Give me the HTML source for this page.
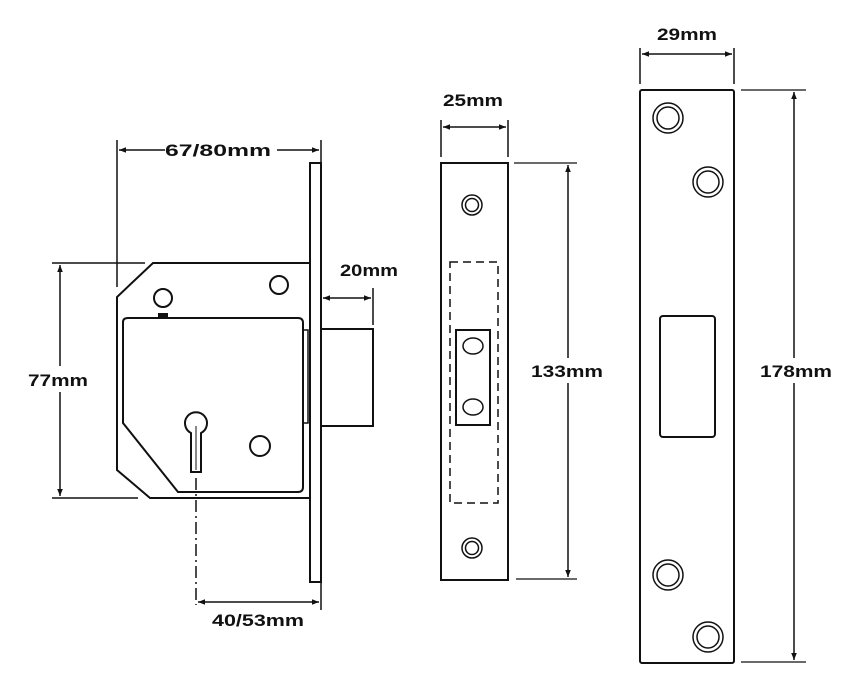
<!DOCTYPE html>
<html><head><style>
html,body{margin:0;padding:0;background:#fff;}
svg{display:block;}
text{font-family:"Liberation Sans",Arial,sans-serif;font-weight:bold;font-size:17px;fill:#111;}
</style></head><body>
<svg width="849" height="691" viewBox="0 0 849 691" xmlns="http://www.w3.org/2000/svg">
<defs>
<marker id="a" viewBox="0 0 10 10" refX="10" refY="5" markerWidth="9" markerHeight="7" orient="auto-start-reverse" markerUnits="userSpaceOnUse"><path d="M0,1 L10,5 L0,9 z" fill="#111"/></marker>
</defs>
<g fill="none" stroke="#111" stroke-width="2">
<!-- lock body -->
<rect x="310" y="163" width="11" height="419"/>
<path d="M310,263 L153,263 L117,297 L117,470 L150,498 L310,498"/>
<path d="M123,322 Q123,318 128,318 L298,318 Q303,318 303,323 L303,487 Q303,492 298,492 L178,492 L123,423 Z"/>
<path d="M303,330 L308,330 L308,423 L303,423" stroke-width="1.5"/>
<rect x="321" y="329" width="52" height="97"/>
<circle cx="163" cy="298" r="9"/>
<rect x="158" y="313" width="10" height="4" fill="#111" stroke="none"/>
<circle cx="279" cy="285" r="9"/>
<circle cx="260" cy="446" r="10"/>
<path d="M191,472 L191,433 A11,11 0 1 1 201,433 L201,472 Z"/>
<line x1="196" y1="426" x2="196" y2="470" stroke-width="1"/>
<line x1="196" y1="478" x2="196" y2="605" stroke-dasharray="12,4,2,4" stroke-width="1.5"/>
<!-- 67/80 -->
<line x1="117" y1="140" x2="117" y2="287" stroke-width="1.5"/>
<line x1="321" y1="140" x2="321" y2="165" stroke-width="1.5"/>
<line x1="119" y1="150" x2="165" y2="150" marker-start="url(#a)" stroke-width="1.5"/>
<line x1="277" y1="150" x2="319" y2="150" marker-end="url(#a)" stroke-width="1.5"/>
<!-- 20mm -->
<line x1="373" y1="288" x2="373" y2="325" stroke-width="1.5"/>
<line x1="323" y1="298" x2="371" y2="298" marker-start="url(#a)" marker-end="url(#a)" stroke-width="1.5"/>
<!-- 77mm -->
<line x1="52" y1="263" x2="145" y2="263" stroke-width="1.5"/>
<line x1="52" y1="498" x2="138" y2="498" stroke-width="1.5"/>
<line x1="60" y1="265" x2="60" y2="366" marker-start="url(#a)" stroke-width="1.5"/>
<line x1="60" y1="392" x2="60" y2="496" marker-end="url(#a)" stroke-width="1.5"/>
<!-- 40/53 -->
<line x1="321" y1="582" x2="321" y2="610" stroke-width="1.5"/>
<line x1="198" y1="602" x2="319" y2="602" marker-start="url(#a)" marker-end="url(#a)" stroke-width="1.5"/>

<!-- keep -->
<rect x="441" y="163" width="67" height="417"/>
<circle cx="472" cy="205" r="10" stroke-width="1.5"/><circle cx="472" cy="205" r="6.5" stroke-width="1.5"/>
<circle cx="472" cy="548" r="10" stroke-width="1.5"/><circle cx="472" cy="548" r="6.5" stroke-width="1.5"/>
<rect x="450" y="262" width="48" height="241" stroke-dasharray="8,5" stroke-width="1.5"/>
<rect x="456" y="330" width="34" height="95"/>
<ellipse cx="473" cy="346" rx="10" ry="8" stroke-width="1.5"/>
<ellipse cx="473" cy="407" rx="10" ry="8" stroke-width="1.5"/>
<line x1="441" y1="120" x2="441" y2="157" stroke-width="1.5"/>
<line x1="508" y1="120" x2="508" y2="157" stroke-width="1.5"/>
<line x1="443" y1="127" x2="506" y2="127" marker-start="url(#a)" marker-end="url(#a)" stroke-width="1.5"/>
<line x1="514" y1="163" x2="577" y2="163" stroke-width="1.2"/>
<line x1="516" y1="579" x2="577" y2="579" stroke-width="1.2"/>
<line x1="568" y1="165" x2="568" y2="358" marker-start="url(#a)" stroke-width="1.5"/>
<line x1="568" y1="383" x2="568" y2="577" marker-end="url(#a)" stroke-width="1.5"/>

<!-- strike -->
<rect x="640" y="90" width="94" height="573" rx="2"/>
<circle cx="668" cy="118" r="15" stroke-width="1.5"/><circle cx="668" cy="118" r="11" stroke-width="1.5"/>
<circle cx="708" cy="182" r="15" stroke-width="1.5"/><circle cx="708" cy="182" r="11" stroke-width="1.5"/>
<circle cx="668" cy="575" r="15" stroke-width="1.5"/><circle cx="668" cy="575" r="11" stroke-width="1.5"/>
<circle cx="708" cy="637" r="15" stroke-width="1.5"/><circle cx="708" cy="637" r="11" stroke-width="1.5"/>
<rect x="660" y="316" width="55" height="121" rx="3"/>
<line x1="640" y1="48" x2="640" y2="84" stroke-width="1.5"/>
<line x1="734" y1="48" x2="734" y2="84" stroke-width="1.5"/>
<line x1="642" y1="54" x2="732" y2="54" marker-start="url(#a)" marker-end="url(#a)" stroke-width="1.5"/>
<line x1="741" y1="90" x2="806" y2="90" stroke-width="1.2"/>
<line x1="741" y1="662" x2="806" y2="662" stroke-width="1.2"/>
<line x1="794" y1="92" x2="794" y2="358" marker-start="url(#a)" stroke-width="1.5"/>
<line x1="794" y1="383" x2="794" y2="660" marker-end="url(#a)" stroke-width="1.5"/>
</g>
<text x="165" y="156" textLength="106" lengthAdjust="spacingAndGlyphs">67/80mm</text>
<text x="340" y="276" textLength="58" lengthAdjust="spacingAndGlyphs">20mm</text>
<text x="28" y="386" textLength="60" lengthAdjust="spacingAndGlyphs">77mm</text>
<text x="212" y="626" textLength="92" lengthAdjust="spacingAndGlyphs">40/53mm</text>
<text x="443" y="106" textLength="60" lengthAdjust="spacingAndGlyphs">25mm</text>
<text x="531" y="377" textLength="72" lengthAdjust="spacingAndGlyphs">133mm</text>
<text x="657" y="40" textLength="60" lengthAdjust="spacingAndGlyphs">29mm</text>
<text x="760" y="377" textLength="72" lengthAdjust="spacingAndGlyphs">178mm</text>
</svg>
</body></html>
